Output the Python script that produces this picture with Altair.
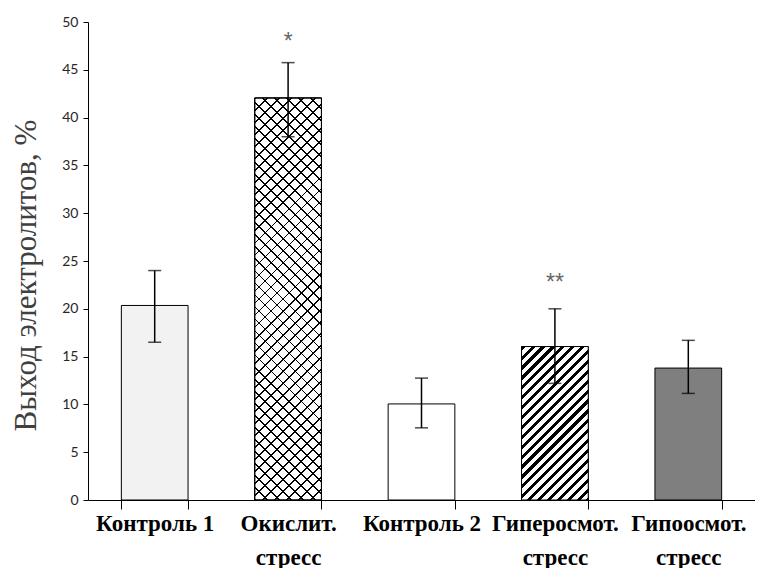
import math
import altair as alt
import pandas as pd

categories = ["Контроль 1", "Окислит.\nстресс", "Контроль 2", "Гиперосмот.\nстресс", "Гипоосмот.\nстресс"]
means = [20.35, 42.05, 10.05, 16.05, 13.8]
err_low = [16.5, 38.0, 7.55, 12.2, 11.15]
err_high = [24.0, 45.75, 12.75, 20.0, 16.7]
star_text = ["", "*", "", "**", ""]
star_y = [0, 48.4, 0, 23.2, 0]
fills = ["#f2f2f2", "#ffffff", "#ffffff", "#ffffff", "#7f7f7f"]
y_ticks = [0, 5, 10, 15, 20, 25, 30, 35, 40, 45, 50]

W, H = 667, 478
YMAX = 50

df = pd.DataFrame({
    "cat": categories, "mean": means, "lo": err_low, "hi": err_high,
    "star": star_text, "sy": star_y,
})

BAND = W / 10.0  # bandwidth with paddingInner 0.5, paddingOuter 0.25


def stripes(value, period, thick, direction, fg, bg):
    w = BAND
    h = value / YMAX * H
    r = h / w
    k = (1 + r) / (1 + r * r)
    if direction == "/":
        x1, y1, x2, y2 = 0, 0, k, k * r
    else:
        x1, y1, x2, y2 = 0, 1, k, 1 - k * r
    span = (w + h) / math.sqrt(2)
    f = thick / span
    step = period / span
    stops = []
    pos = 0.0
    while pos < 1:
        a = round(pos, 5)
        b = round(min(pos + f, 1), 5)
        c = round(min(pos + step, 1), 5)
        stops += [(a, fg), (b, fg), (b, bg), (c, bg)]
        pos += step
    return alt.LinearGradient(
        gradient="linear", x1=x1, y1=y1, x2=x2, y2=y2,
        stops=[alt.GradientStop(offset=o, color=col) for o, col in stops],
    )


xenc = alt.X(
    "cat:N", sort=categories, title=None,
    scale=alt.Scale(paddingInner=0.5, paddingOuter=0.25),
    axis=alt.Axis(
        labelExpr="split(datum.label, '\\n')", labelAngle=0,
        labelFont="Liberation Serif", labelFontWeight="bold", labelFontSize=23,
        labelColor="#000000", labelLineHeight=34, labelBaseline="top",
        labelPadding=3, labelLimit=300, labelOverlap=False,
        tickBand="extent", tickSize=9, tickColor="#000000", tickWidth=1,
        domainColor="#000000", domainWidth=1,
    ),
)
yscale = alt.Scale(domain=[0, YMAX], nice=False, zero=True)
yenc = alt.Y(
    "mean:Q", scale=yscale, title="Выход электролитов, %",
    axis=alt.Axis(
        values=y_ticks, grid=False, tickSize=5, tickColor="#000000",
        domainColor="#000000", domainWidth=1,
        labelFont="Lato", labelFontSize=14, labelColor="#262626", labelPadding=5,
        titleFont="Liberation Serif", titleFontSize=31, titleFontWeight="normal",
        titleColor="#404040", titleX=-46, titleY=253, titleAngle=-90,
        titleBaseline="bottom", titleAlign="center",
    ),
)

base = alt.Chart(df)

bars = base.mark_bar(stroke="#000000", strokeWidth=1).encode(
    x=xenc, y=yenc,
    fill=alt.Fill("cat:N", scale=alt.Scale(domain=categories, range=fills), legend=None),
)

ox_val = means[1]
hy_val = means[3]
ox1 = base.transform_filter(alt.datum.cat == categories[1]).mark_bar(
    fill=stripes(ox_val, 8.5, 1.3, "/", "#000000", "#ffffff"), stroke="#000000", strokeWidth=1
).encode(x=alt.X("cat:N", sort=categories), y=alt.Y("mean:Q", scale=yscale))
ox2 = base.transform_filter(alt.datum.cat == categories[1]).mark_bar(
    fill=stripes(ox_val, 8.5, 1.3, "\\", "#000000", "rgba(255,255,255,0)"), stroke="#000000", strokeWidth=1
).encode(x=alt.X("cat:N", sort=categories), y=alt.Y("mean:Q", scale=yscale))
hy = base.transform_filter(alt.datum.cat == categories[3]).mark_bar(
    fill=stripes(hy_val, 7.0, 3.0, "/", "#000000", "#ffffff"), stroke="#000000", strokeWidth=1
).encode(x=alt.X("cat:N", sort=categories), y=alt.Y("mean:Q", scale=yscale))

rules = base.mark_rule(color="#000000", strokeWidth=1.5).encode(
    x=alt.X("cat:N", sort=categories), y=alt.Y("lo:Q", scale=yscale), y2="hi:Q"
)
cap_hi = base.mark_tick(color="#000000", thickness=1.5, size=13, orient="horizontal").encode(
    x=alt.X("cat:N", sort=categories), y=alt.Y("hi:Q", scale=yscale)
)
cap_lo = base.mark_tick(color="#000000", thickness=1.5, size=13, orient="horizontal").encode(
    x=alt.X("cat:N", sort=categories), y=alt.Y("lo:Q", scale=yscale)
)
stars = base.transform_filter(alt.datum.star != "").mark_text(
    font="Liberation Sans", fontSize=23, color="#666666", baseline="middle", dy=5
).encode(
    x=alt.X("cat:N", sort=categories), y=alt.Y("sy:Q", scale=yscale), text="star:N"
)

chart = alt.layer(bars, ox1, ox2, hy, rules, cap_hi, cap_lo, stars).properties(
    width=W, height=H,
    autosize=alt.AutoSizeParams(type="none"),
    padding={"left": 80, "top": 14, "right": 0, "bottom": 68},
    background="#ffffff",
).configure_view(stroke=None)

chart.save("out.html", embed_options={"renderer": "svg", "actions": False})
